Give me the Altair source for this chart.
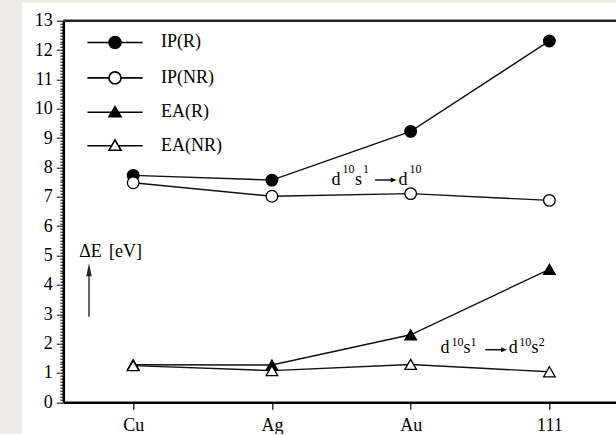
import altair as alt
import pandas as pd

# ---------------- data ----------------
elements = ["Cu", "Ag", "Au", "111"]
series_names = ["IP(R)", "IP(NR)", "EA(R)", "EA(NR)"]
ip_r = [7.73, 7.57, 9.23, 12.31]
ip_nr = [7.48, 7.02, 7.11, 6.88]
ea_r = [1.28, 1.27, 2.30, 4.53]
ea_nr = [1.25, 1.08, 1.29, 1.04]
y_minor = [round(k * 0.1, 1) for k in range(0, 131)]

rows = []
for name, vals in zip(series_names, [ip_r, ip_nr, ea_r, ea_nr]):
    for el, v in zip(elements, vals):
        rows.append({"element": el, "series": name, "value": v})
df = pd.DataFrame(rows)

FONT = "Liberation Serif, Times New Roman, serif"
OX, OY = 63.3, 20.7          # plot-area origin on the page
W, H = 616 - OX, 381.6

xscale = alt.Scale(type="point", domain=elements, padding=0.492, align=0.512)
yscale = alt.Scale(domain=[0, 13], nice=False, zero=True)

y_enc = alt.Y(
    "value:Q",
    scale=yscale,
    axis=alt.Axis(
        orient="left",
        values=y_minor,
        labelExpr="datum.value % 1 === 0 ? format(datum.value, 'd') : ''",
        tickSize={"condition": {"test": "datum.value % 1 === 0", "value": 7}, "value": 3.5},
        tickColor="black",
        tickWidth=1,
        domainColor="black",
        domainWidth=2.5,
        labelFont=FONT,
        labelFontSize=18,
        labelColor="black",
        labelPadding=4,
        labelOverlap=False,
        labelFlush=False,
        grid=False,
        title=None,
    ),
)

x_enc = alt.X(
    "element:N",
    sort=elements,
    scale=xscale,
    axis=alt.Axis(
        orient="bottom",
        tickSize=7,
        tickColor="black",
        tickWidth=1.2,
        domainColor="black",
        domainWidth=2.5,
        labelFont=FONT,
        labelFontSize=18,
        labelColor="black",
        labelPadding=7,
        labelAngle=0,
        grid=False,
        title=None,
    ),
)

base = alt.Chart(df)

lines = base.mark_line(color="#111111", strokeWidth=1.4).encode(
    x=x_enc, y=y_enc, detail="series:N"
)

marker_shapes = ["circle", "circle", "triangle-up", "triangle-up"]
marker_fills = ["black", "white", "black", "white"]

points = base.mark_point(filled=True, stroke="black", strokeWidth=1.3, opacity=1, size=135).encode(
    x=x_enc,
    y=y_enc,
    shape=alt.Shape("series:N", scale=alt.Scale(domain=series_names, range=marker_shapes), legend=None),
    fill=alt.Fill("series:N", scale=alt.Scale(domain=series_names, range=marker_fills), legend=None),
)

# legend symbols: line with marker in the middle
circ = "M1,0A1,1,0,1,1,-1,0A1,1,0,1,1,1,0Z"
tri = "M0,-0.95L1,0.75L-1,0.75Z"
legend_paths = [
    "M-4.6,0L-1,0M1,0L4.6,0" + circ,
    "M-4.6,0L-1,0M1,0L4.6,0" + circ,
    "M-4.6,0L-0.55,0M0.55,0L4.6,0" + tri,
    "M-4.6,0L-0.55,0M0.55,0L4.6,0" + tri,
]
leg = alt.Legend(
    orient="none",
    legendX=42.7,
    legendY=12.8,
    title=None,
    labelFont=FONT,
    labelFontSize=18,
    labelColor="black",
    labelOffset=37,
    rowPadding=15.4,
    padding=0,
    symbolSize=144,
    symbolStrokeColor="black",
    symbolStrokeWidth=1.6,
    symbolOpacity=1,
)
legend_layer = base.transform_filter("false").mark_point(
    filled=True, strokeWidth=1.6, opacity=1, size=144
).encode(
    shape=alt.Shape("series:N", scale=alt.Scale(domain=series_names, range=legend_paths), legend=leg),
    fill=alt.Fill("series:N", scale=alt.Scale(domain=series_names, range=marker_fills), legend=leg),
    stroke=alt.Stroke("series:N", scale=alt.Scale(domain=series_names, range=["black"] * 4), legend=leg),
)

one = pd.DataFrame({"a": [0]})

# the figure box is open on the right side: mask its right edge
right_mask = alt.Chart(one).mark_rect(color="white").encode(
    x=alt.value(W - 4), x2=alt.value(W + 1), y=alt.value(2), y2=alt.value(H - 2)
)
# top frame line of the figure box
frame_top = alt.Chart(one).mark_rule(color="#222222", strokeWidth=2.5).encode(
    x=alt.value(0), x2=alt.value(W), y=alt.value(0)
)


def txt(s, px, py, size=18):
    return alt.Chart(one).mark_text(
        text=s, align="left", baseline="alphabetic", font=FONT, fontSize=size, color="black"
    ).encode(x=alt.value(px - OX), y=alt.value(py - OY))


def harrow(x0, x1, y):
    shaft = alt.Chart(one).mark_rule(color="#111111", strokeWidth=1.5).encode(
        x=alt.value(x0 - OX), x2=alt.value(x1 - 5 - OX), y=alt.value(y - OY)
    )
    head = alt.Chart(one).mark_point(
        shape="M1,0L-1,-0.85L-1,0.85Z", filled=True, color="#111111", opacity=1, size=36
    ).encode(x=alt.value(x1 - 3 - OX), y=alt.value(y - OY))
    return [shaft, head]


annots = [
    # d10s1 -> d10
    txt("d", 331.5, 185), txt("10", 342.5, 173.5, 12), txt("s", 355, 185), txt("1", 363, 173.5, 12),
    *harrow(375, 396.7, 180), txt("d", 398.5, 185), txt("10", 409.5, 173.5, 12),
    # d10s1 -> d10s2
    txt("d", 440.5, 353), txt("10", 451.5, 345.8, 12), txt("s", 463.5, 353), txt("1", 470.5, 345.8, 12),
    *harrow(485.3, 507, 349.7), txt("d", 508.7, 353), txt("10", 519.3, 345.8, 12),
    txt("s", 531.5, 353), txt("2", 538.7, 345.8, 12),
    # Delta E label
    txt("\u0394E", 79.3, 256.7), txt("[eV]", 109, 256.7),
]

arrow_line = alt.Chart(one).mark_rule(color="#333333", strokeWidth=1.5).encode(
    x=alt.value(89 - OX), y=alt.value(272 - OY), y2=alt.value(316.7 - OY)
)
arrow_head = alt.Chart(one).mark_point(
    shape="M0,-1L0.42,1L-0.42,1Z", filled=True, color="#222222", opacity=1, size=169
).encode(x=alt.value(89 - OX), y=alt.value(269.8 - OY))

# beige page strips around the white figure sheet
PAGE = "#eeece6"
strip_left = alt.Chart(one).mark_rect(color=PAGE).encode(
    x=alt.value(0 - OX), x2=alt.value(22 - OX), y=alt.value(0 - OY), y2=alt.value(435 - OY)
)
strip_top = alt.Chart(one).mark_rect(color=PAGE).encode(
    x=alt.value(0 - OX), x2=alt.value(616 - OX), y=alt.value(0 - OY), y2=alt.value(2.7 - OY)
)

chart = (
    alt.layer(strip_left, strip_top, right_mask, frame_top, lines, points, legend_layer,
              arrow_line, arrow_head, *annots)
    .resolve_scale(shape="independent", fill="independent", stroke="independent")
    .properties(
        width=W,
        height=H,
        autosize=alt.AutoSizeParams(type="none"),
        padding={"left": OX, "top": OY, "right": 0, "bottom": 32},
        background="white",
    )
    .configure_view(stroke="transparent", strokeWidth=0, strokeOpacity=0)
)

chart.save(
    "out.html",
    embed_options={
        "renderer": "svg",
        "actions": False,
        "defaultStyle": "body{margin:0;padding:0;overflow:hidden}",
    },
)
